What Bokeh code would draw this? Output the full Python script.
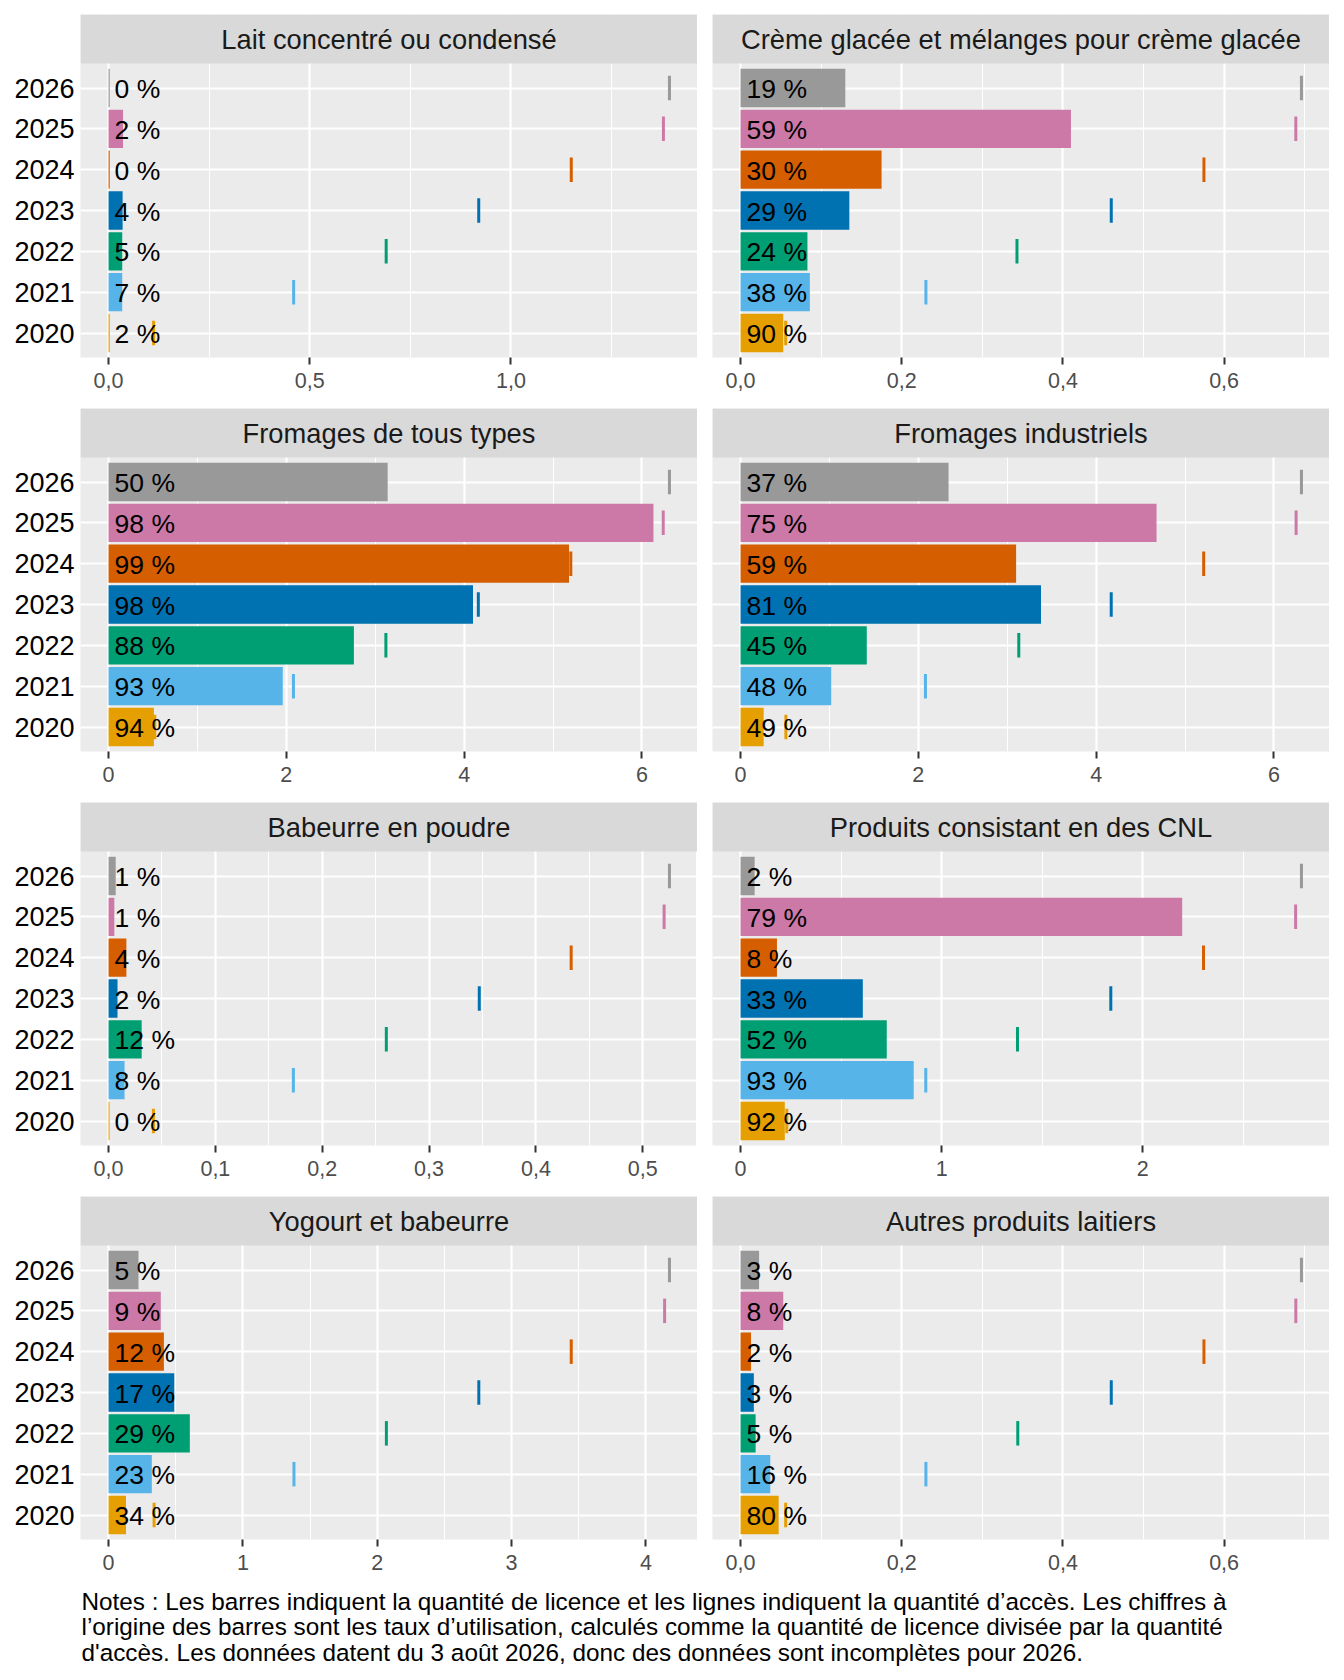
from bokeh.plotting import figure
from bokeh.models import ColumnDataSource, Range1d, FixedTicker, BoxAnnotation, Label
from bokeh.layouts import column, row
from bokeh.embed import file_html
from bokeh.resources import INLINE
from bokeh.core.properties import value

FONT = "Liberation Sans"

years = ["2020", "2021", "2022", "2023", "2024", "2025", "2026"]
year_colors = ["#E69F00", "#56B4E9", "#009E73", "#0072B2", "#D55E00", "#CC79A7", "#999999"]

titles = [
    "Lait concentré ou condensé",
    "Crème glacée et mélanges pour crème glacée",
    "Fromages de tous types",
    "Fromages industriels",
    "Babeurre en poudre",
    "Produits consistant en des CNL",
    "Yogourt et babeurre",
    "Autres produits laitiers",
]

# licence quantity (bars), 2020..2026
licence_lait = [0.003, 0.034, 0.034, 0.035, 0.003, 0.036, 0.003]
licence_creme = [0.053, 0.086, 0.083, 0.135, 0.175, 0.410, 0.130]
licence_from_tous = [0.51, 1.96, 2.76, 4.10, 5.18, 6.13, 3.14]
licence_from_ind = [0.26, 1.02, 1.42, 3.38, 3.10, 4.68, 2.34]
licence_babeurre = [0.001, 0.015, 0.031, 0.0084, 0.0167, 0.0054, 0.0067]
licence_cnl = [0.220, 0.861, 0.727, 0.608, 0.181, 2.196, 0.070]
licence_yogourt = [0.130, 0.322, 0.605, 0.489, 0.412, 0.389, 0.223]
licence_autres = [0.0473, 0.0369, 0.0187, 0.0165, 0.013, 0.053, 0.023]

# access quantity (lines), 2020..2026
access_lait = [0.112, 0.46, 0.69, 0.92, 1.15, 1.379, 1.394]
access_creme = [0.056, 0.230, 0.343, 0.460, 0.575, 0.689, 0.696]
access_from_tous = [0.52, 2.08, 3.12, 4.16, 5.20, 6.24, 6.31]
access_from_ind = [0.51, 2.08, 3.13, 4.17, 5.21, 6.25, 6.31]
access_babeurre = [0.042, 0.173, 0.260, 0.347, 0.433, 0.520, 0.525]
access_cnl = [0.23, 0.921, 1.377, 1.841, 2.302, 2.760, 2.789]
access_yogourt = [0.339, 1.380, 2.068, 2.756, 3.444, 4.139, 4.175]
access_autres = [0.056, 0.230, 0.344, 0.460, 0.575, 0.689, 0.696]

# utilisation rates (%), 2020..2026
rate_lait = [2, 7, 5, 4, 0, 2, 0]
rate_creme = [90, 38, 24, 29, 30, 59, 19]
rate_from_tous = [94, 93, 88, 98, 99, 98, 50]
rate_from_ind = [49, 48, 45, 81, 59, 75, 37]
rate_babeurre = [0, 8, 12, 2, 4, 1, 1]
rate_cnl = [92, 93, 52, 33, 8, 79, 2]
rate_yogourt = [34, 23, 29, 17, 12, 9, 5]
rate_autres = [80, 16, 5, 3, 2, 8, 3]

# axis ticks
ticks_a = [0, 0.5, 1.0]
labels_a = ["0,0", "0,5", "1,0"]
minor_a = [0.25, 0.75, 1.25]
ticks_b = [0, 0.2, 0.4, 0.6]
labels_b = ["0,0", "0,2", "0,4", "0,6"]
minor_b = [0.1, 0.3, 0.5, 0.7]
ticks_c = [0, 2, 4, 6]
labels_c = ["0", "2", "4", "6"]
minor_c = [1, 3, 5]
ticks_d = [0, 0.1, 0.2, 0.3, 0.4, 0.5]
labels_d = ["0,0", "0,1", "0,2", "0,3", "0,4", "0,5"]
minor_d = [0.05, 0.15, 0.25, 0.35, 0.45, 0.55]
ticks_e = [0, 1, 2]
labels_e = ["0", "1", "2"]
minor_e = [0.5, 1.5, 2.5]
ticks_f = [0, 1, 2, 3, 4]
labels_f = ["0", "1", "2", "3", "4"]
minor_f = [0.5, 1.5, 2.5, 3.5]

notes_lines = [
    "Notes : Les barres indiquent la quantité de licence et les lignes indiquent la quantité d’accès. Les chiffres à",
    "l’origine des barres sont les taux d’utilisation, calculés comme la quantité de licence divisée par la quantité",
    "d'accès. Les données datent du 3 août 2026, donc des données sont incomplètes pour 2026.",
]

panels = [
    (titles[0], licence_lait, access_lait, rate_lait, ticks_a, labels_a, minor_a),
    (titles[1], licence_creme, access_creme, rate_creme, ticks_b, labels_b, minor_b),
    (titles[2], licence_from_tous, access_from_tous, rate_from_tous, ticks_c, labels_c, minor_c),
    (titles[3], licence_from_ind, access_from_ind, rate_from_ind, ticks_c, labels_c, minor_c),
    (titles[4], licence_babeurre, access_babeurre, rate_babeurre, ticks_d, labels_d, minor_d),
    (titles[5], licence_cnl, access_cnl, rate_cnl, ticks_e, labels_e, minor_e),
    (titles[6], licence_yogourt, access_yogourt, rate_yogourt, ticks_f, labels_f, minor_f),
    (titles[7], licence_autres, access_autres, rate_autres, ticks_b, labels_b, minor_b),
]

FRAME_W = 617
FRAME_H = 343
BOTTOM = 45
LEFT_BORDER = 80
GAP = 15
STRIP_UNITS = 1.2
pos = list(range(len(years)))


def make_panel(title, licence, access, rates, ticks, tick_labels, minor, left_col, top):
    m = max(access)
    xr = Range1d(-0.05 * m, 1.05 * m)
    yr = Range1d(-0.6, len(years) - 0.4 + STRIP_UNITS)
    lb = LEFT_BORDER if left_col else GAP
    p = figure(width=lb + FRAME_W, height=top + FRAME_H + BOTTOM,
               x_range=xr, y_range=yr, output_backend="svg",
               toolbar_location=None, tools="",
               y_axis_location="left" if left_col else None,
               min_border_left=lb, min_border_right=0,
               min_border_top=top, min_border_bottom=BOTTOM)
    p.background_fill_color = "#EBEBEB"
    p.border_fill_color = "white"
    p.outline_line_color = None

    src = ColumnDataSource(dict(
        y=pos,
        lic=licence,
        acc=access,
        y0=[v - 0.3 for v in pos],
        y1=[v + 0.3 for v in pos],
        color=year_colors,
        label=[f"{r} %" for r in rates],
    ))
    p.hbar(y="y", left=0, right="lic", height=0.94, fill_color="color",
           line_color=None, source=src)
    p.segment(x0="acc", x1="acc", y0="y0", y1="y1", line_color="color",
              line_width=3, source=src)
    p.text(x=0, y="y", text="label", x_offset=6, y_offset=1, text_align="left",
           text_baseline="middle", text_font=value(FONT),
           text_font_size=value("26.5px"), text_color="black", source=src)

    # x axis
    xa = p.xaxis[0]
    xa.ticker = FixedTicker(ticks=ticks, minor_ticks=minor)
    xa.major_label_overrides = dict(zip(ticks, tick_labels))
    xa.axis_line_color = None
    xa.major_tick_line_color = "#333333"
    xa.major_tick_line_width = 2
    xa.major_tick_out = 7
    xa.major_tick_in = 0
    xa.minor_tick_line_color = None
    xa.major_label_standoff = 8
    xa.major_label_text_font = FONT
    xa.major_label_text_font_size = "21.5px"
    xa.major_label_text_color = "#4D4D4D"

    p.xgrid.grid_line_color = "white"
    p.xgrid.grid_line_width = 2.2
    p.xgrid.minor_grid_line_color = "white"
    p.xgrid.minor_grid_line_width = 1.1

    yticker = FixedTicker(ticks=pos)
    if left_col:
        ya = p.yaxis[0]
        ya.ticker = yticker
        ya.major_label_overrides = dict(zip(pos, years))
        ya.axis_line_color = None
        ya.major_tick_line_color = None
        ya.major_tick_out = 0
        ya.major_tick_in = 0
        ya.minor_tick_line_color = None
        ya.major_label_standoff = 6
        ya.major_label_text_font = FONT
        ya.major_label_text_font_size = "27px"
        ya.major_label_text_color = "black"
    for g in p.ygrid:
        if g.axis is not None:
            g.axis.ticker = yticker
        g.ticker = yticker
    p.ygrid.grid_line_color = "white"
    p.ygrid.grid_line_width = 2.2
    p.ygrid.minor_grid_line_color = None

    strip = BoxAnnotation(bottom=len(years) - 0.4, fill_color="#D9D9D9",
                          fill_alpha=1.0, line_color=None)
    p.add_layout(strip)
    p.add_layout(Label(x=(xr.start + xr.end) / 2,
                       y=len(years) - 0.4 + STRIP_UNITS / 2,
                       text=title, text_align="center", text_baseline="middle",
                       text_font=FONT, text_font_size="27.3px",
                       text_color="#1A1A1A"))
    return p


figs = []
for i, pan in enumerate(panels):
    top = 14 if i < 2 else 6
    figs.append(make_panel(*pan, left_col=(i % 2 == 0), top=top))

NOTES_H = 90
NOTES_W = LEFT_BORDER + GAP + 2 * FRAME_W
notes = figure(width=NOTES_W, height=NOTES_H,
               x_range=Range1d(0, NOTES_W),
               y_range=Range1d(NOTES_H, 0), output_backend="svg",
               toolbar_location=None, tools="", min_border=0,
               x_axis_location=None, y_axis_location=None)
notes.outline_line_color = None
notes.background_fill_color = "white"
notes.border_fill_color = "white"
notes.grid.grid_line_color = None
for k, line in enumerate(notes_lines):
    notes.add_layout(Label(x=LEFT_BORDER + 1, y=16.5 + 25.5 * k, text=line,
                           text_align="left", text_baseline="alphabetic",
                           text_font=FONT, text_font_size="24.3px",
                           text_color="black"))

layout = column(
    row(figs[0], figs[1]),
    row(figs[2], figs[3]),
    row(figs[4], figs[5]),
    row(figs[6], figs[7]),
    notes,
)

open("out.html", "w").write(file_html(layout, INLINE))
